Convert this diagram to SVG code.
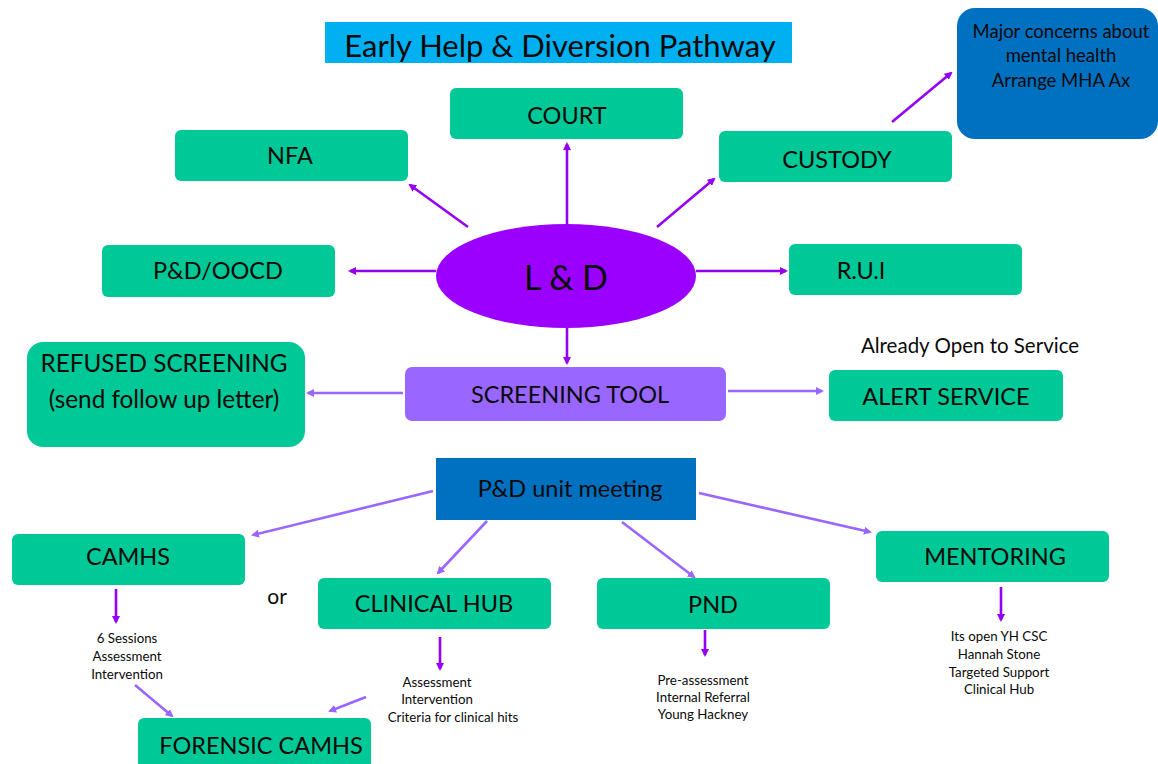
<svg xmlns="http://www.w3.org/2000/svg" width="1158" height="764" viewBox="0 0 1158 764">
<style>
text{font-family:Lato,"Open Sans","Liberation Sans",sans-serif;fill:#0a0a0a;text-anchor:middle;dominant-baseline:central}
.g{fill:#00C896}
.big{font-size:23.5px}
.sm{font-size:13.3px}
.d{stroke:#9400F5;stroke-width:2.6;fill:none}
.l{stroke:#9966FF;stroke-width:2.6;fill:none}
</style>
<defs>
<marker id="ad" markerWidth="8" markerHeight="8" refX="6" refY="4" orient="auto" markerUnits="userSpaceOnUse"><path d="M0,0 L8,4 L0,8 Z" fill="#9400F5"/></marker>
<marker id="al" markerWidth="8" markerHeight="8" refX="6" refY="4" orient="auto" markerUnits="userSpaceOnUse"><path d="M0,0 L8,4 L0,8 Z" fill="#9966FF"/></marker>
</defs>
<rect width="1158" height="764" fill="#fff"/>
<g id="title"><rect x="325" y="22" width="467" height="41" fill="#00B0F0"/><text x="560" y="45" font-size="31">Early Help &amp; Diversion Pathway</text></g>
<g id="connectors">
<line class="d" x1="468" y1="227" x2="410" y2="185" marker-end="url(#ad)"/>
<line class="d" x1="567" y1="224" x2="567" y2="144" marker-end="url(#ad)"/>
<line class="d" x1="657" y1="227" x2="714" y2="179" marker-end="url(#ad)"/>
<line class="d" x1="892" y1="122" x2="951" y2="73" marker-end="url(#ad)"/>
<line class="d" x1="436" y1="271" x2="350" y2="271" marker-end="url(#ad)"/>
<line class="d" x1="696" y1="271" x2="786" y2="271" marker-end="url(#ad)"/>
<line class="d" x1="567" y1="328" x2="567" y2="363" marker-end="url(#ad)"/>
<line class="l" x1="403" y1="393" x2="308" y2="393" marker-end="url(#al)"/>
<line class="l" x1="728" y1="391" x2="822" y2="391" marker-end="url(#al)"/>
<line class="l" x1="433" y1="491" x2="253" y2="535" marker-end="url(#al)"/>
<line class="l" x1="487" y1="521" x2="438" y2="573" marker-end="url(#al)"/>
<line class="l" x1="622" y1="522" x2="694" y2="577" marker-end="url(#al)"/>
<line class="l" x1="699" y1="493" x2="870" y2="532" marker-end="url(#al)"/>
<line class="d" x1="116" y1="589" x2="116" y2="622" marker-end="url(#ad)"/>
<line class="d" x1="440" y1="637" x2="440" y2="669" marker-end="url(#ad)"/>
<line class="d" x1="705" y1="630" x2="705" y2="655" marker-end="url(#ad)"/>
<line class="d" x1="1001" y1="587" x2="1001" y2="620" marker-end="url(#ad)"/>
<line class="l" x1="135" y1="685" x2="172" y2="716" marker-end="url(#al)"/>
<line class="l" x1="366" y1="697" x2="330" y2="711" marker-end="url(#al)"/>
</g>
<g id="mh"><rect x="957" y="8" width="201" height="131" rx="18" fill="#0070C0"/><text x="1061" y="31" font-size="18.5">Major concerns about</text><text x="1061" y="55" font-size="18.5">mental health</text><text x="1061" y="80" font-size="18.5">Arrange MHA Ax</text></g>
<g id="court"><rect class="g" x="450" y="88" width="233" height="51" rx="6"/><text class="big" x="567" y="115">COURT</text></g>
<g id="nfa"><rect class="g" x="175" y="130" width="233" height="51" rx="6"/><text class="big" x="290" y="155">NFA</text></g>
<g id="custody"><rect class="g" x="719" y="131" width="233" height="51" rx="6"/><text class="big" x="837" y="159">CUSTODY</text></g>
<g id="pdoocd"><rect class="g" x="102" y="245" width="233" height="52" rx="6"/><text class="big" x="218" y="270">P&amp;D/OOCD</text></g>
<g id="rui"><rect class="g" x="789" y="244" width="233" height="51" rx="6"/><text class="big" x="861" y="270">R.U.I</text></g>
<g id="ld"><ellipse cx="566" cy="276" rx="130" ry="52" fill="#9B00FF"/><text x="566" y="276" font-size="34">L &amp; D</text></g>
<g id="refused"><rect class="g" x="27" y="342" width="278" height="105" rx="16"/><text x="164" y="362" font-size="24.3">REFUSED SCREENING</text><text x="164" y="398" font-size="24.3">(send follow up letter)</text></g>
<g id="screening"><rect x="405" y="367" width="321" height="54" rx="7" fill="#9966FF"/><text class="big" x="570" y="394">SCREENING TOOL</text></g>
<g id="alert"><text x="970" y="345" font-size="20.5">Already Open to Service</text><rect class="g" x="829" y="370" width="234" height="51" rx="6"/><text class="big" x="946" y="396">ALERT SERVICE</text></g>
<g id="pdunit"><rect x="436" y="458" width="260" height="62" fill="#0070C0"/><text class="big" x="570" y="488">P&amp;D unit meeting</text></g>
<g id="camhs"><rect class="g" x="12" y="534" width="233" height="51" rx="6"/><text class="big" x="128" y="556">CAMHS</text><text x="277" y="595" font-size="21">or</text><text class="sm" x="127" y="638">6 Sessions</text><text class="sm" x="127" y="656">Assessment</text><text class="sm" x="127" y="674">Intervention</text></g>
<g id="clinical"><rect class="g" x="318" y="578" width="233" height="51" rx="6"/><text class="big" x="434" y="603">CLINICAL HUB</text><text class="sm" x="437" y="682">Assessment</text><text class="sm" x="437" y="699">Intervention</text><text class="sm" x="453" y="717">Criteria for clinical hits</text></g>
<g id="pnd"><rect class="g" x="597" y="578" width="233" height="51" rx="6"/><text class="big" x="713" y="604">PND</text><text class="sm" x="703" y="680">Pre-assessment</text><text class="sm" x="703" y="697">Internal Referral</text><text class="sm" x="703" y="714">Young Hackney</text></g>
<g id="mentoring"><rect class="g" x="876" y="531" width="233" height="51" rx="6"/><text class="big" x="995" y="556">MENTORING</text><text class="sm" x="999" y="636">Its open YH CSC</text><text class="sm" x="999" y="654">Hannah Stone</text><text class="sm" x="999" y="672">Targeted Support</text><text class="sm" x="999" y="689">Clinical Hub</text></g>
<g id="forensic"><rect class="g" x="138" y="718" width="233" height="60" rx="6"/><text class="big" x="261" y="745">FORENSIC CAMHS</text></g>
</svg>
